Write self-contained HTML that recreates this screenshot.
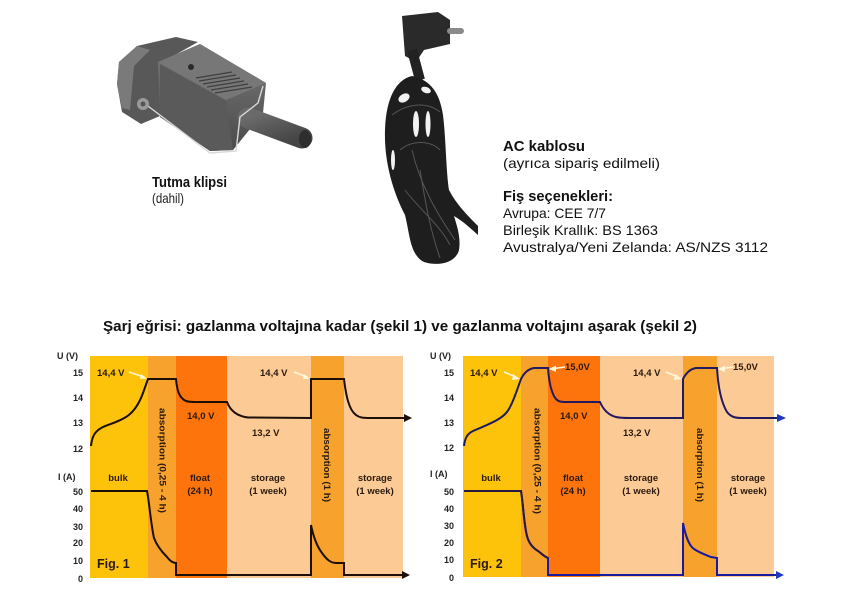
<!DOCTYPE html>
<html><head><meta charset="utf-8"><style>
html,body{margin:0;padding:0;background:#fff;}
svg{display:block;}
text{font-family:"Liberation Sans",Arial,sans-serif;}
.t{font-size:9.5px;font-weight:bold;fill:#2a1a10;}
.ax{font-size:9px;font-weight:bold;fill:#222;}
</style></head><body>
<svg width="852" height="592" viewBox="0 0 852 592" xmlns="http://www.w3.org/2000/svg">
<rect width="852" height="592" fill="#fff"/>
<defs>
<linearGradient id="gb" x1="0" y1="0" x2="0" y2="1"><stop offset="0" stop-color="#7a7a7a"/><stop offset="1" stop-color="#4a4a4a"/></linearGradient>
<linearGradient id="gt" x1="0" y1="0" x2="1" y2="1"><stop offset="0" stop-color="#6a6a6a"/><stop offset="1" stop-color="#444"/></linearGradient>
</defs>

<!-- clip image -->
<g>
<polygon points="119,62 137,46 176,37 198,42 166,60 160,116 141,124 122,112 117,84" fill="#585858"/>
<polygon points="119,62 137,46 150,50 134,66 130,110 122,108 117,84" fill="#7a7a7a"/>
<polygon points="158,62 200,44 266,83 263,113 233,150 210,151 160,117" fill="url(#gb)"/>
<polygon points="158,62 200,44 266,83 226,100" fill="#777"/>
<polygon points="160,64 226,101 233,150 210,151 160,117" fill="#5a5a5a"/>
<circle cx="191" cy="67" r="3" fill="#2a2a2a"/>
<g stroke="#3f3f3f" stroke-width="1.2">
<line x1="196" y1="78" x2="232" y2="72"/><line x1="199" y1="81" x2="236" y2="75"/><line x1="203" y1="84" x2="240" y2="78"/><line x1="207" y1="87" x2="244" y2="81"/><line x1="211" y1="90" x2="248" y2="84"/><line x1="215" y1="93" x2="252" y2="87"/>
</g>
<line x1="248" y1="118" x2="302" y2="138" stroke="url(#gt)" stroke-width="21" stroke-linecap="round"/>
<ellipse cx="305" cy="139" rx="6" ry="9" fill="#2e2e2e"/>
<path d="M140,100 L210,153 L236,151 L240,117 L258,103 L263,86" fill="none" stroke="#d8d8d8" stroke-width="1.4"/>
<circle cx="143" cy="104" r="6" fill="#9a9a9a"/>
<circle cx="143" cy="104" r="2.5" fill="#555"/>
</g>
<text x="152" y="187" font-size="15" font-weight="bold" fill="#111" textLength="75" lengthAdjust="spacingAndGlyphs">Tutma klipsi</text>
<text x="152" y="203" font-size="14" fill="#222" textLength="32" lengthAdjust="spacingAndGlyphs">(dahil)</text>

<!-- cord image -->
<g>
<polygon points="402,16 438,12 450,20 450,44 424,50 416,62 405,56" fill="#2a2a2a"/>
<rect x="447" y="28" width="17" height="6" rx="3" fill="#8a8a8a"/>
<path d="M412,50 L420,80" stroke="#222" stroke-width="10" fill="none"/>
<path d="M412,76 C395,80 386,100 385,130 C384,160 392,190 405,215 C410,235 410,255 424,262 C440,267 456,262 459,250 C461,238 457,226 454,216 C464,222 470,228 478,235 L478,226 C468,216 456,204 449,190 C446,170 446,140 443,115 C440,95 432,80 412,76 Z" fill="#1e1e1e"/>
<g fill="#f2f2f2">
<ellipse cx="404" cy="98" rx="6" ry="4" transform="rotate(-30 404 98)"/>
<ellipse cx="426" cy="90" rx="5" ry="3" transform="rotate(20 426 90)"/>
<ellipse cx="416" cy="124" rx="3" ry="13"/>
<ellipse cx="428" cy="124" rx="2.5" ry="13"/>
<ellipse cx="393" cy="160" rx="2" ry="10"/>
</g>
<g fill="none" stroke="#555" stroke-width="1">
<path d="M392,115 C405,105 425,100 440,112"/>
<path d="M400,150 C412,140 430,140 440,150"/>
<path d="M412,150 C420,185 438,215 455,240"/>
<path d="M420,170 C425,200 430,230 440,258"/>
<path d="M405,190 C420,210 440,225 450,245"/>
</g>
</g>

<!-- right text -->
<g fill="#111">
<text x="503" y="151" font-size="15" font-weight="bold" textLength="82" lengthAdjust="spacingAndGlyphs">AC kablosu</text>
<text x="503" y="168" font-size="14" textLength="157" lengthAdjust="spacingAndGlyphs">(ayrıca sipariş edilmeli)</text>
<text x="503" y="201" font-size="15" font-weight="bold" textLength="110" lengthAdjust="spacingAndGlyphs">Fiş seçenekleri:</text>
<text x="503" y="218" font-size="14" textLength="103" lengthAdjust="spacingAndGlyphs">Avrupa: CEE 7/7</text>
<text x="503" y="235" font-size="14" textLength="155" lengthAdjust="spacingAndGlyphs">Birleşik Krallık: BS 1363</text>
<text x="503" y="252" font-size="14" textLength="265" lengthAdjust="spacingAndGlyphs">Avustralya/Yeni Zelanda: AS/NZS 3112</text>
</g>

<text x="103" y="331" font-size="15" font-weight="bold" fill="#111" textLength="594" lengthAdjust="spacingAndGlyphs">Şarj eğrisi: gazlanma voltajına kadar (şekil 1) ve gazlanma voltajını aşarak (şekil 2)</text>

<!-- CHART 1 -->
<g>
<rect x="90" y="356" width="58" height="222" fill="#FDC20A"/>
<rect x="148" y="356" width="28" height="222" fill="#F8A22E"/>
<rect x="176" y="356" width="51" height="222" fill="#FD730C"/>
<rect x="227" y="356" width="84" height="222" fill="#FCCB95"/>
<rect x="311" y="356" width="33" height="222" fill="#F8A22E"/>
<rect x="344" y="356" width="59" height="222" fill="#FCCB95"/>

<text class="ax" x="57" y="359">U (V)</text>
<text class="ax" x="83" y="376" text-anchor="end">15</text>
<text class="ax" x="83" y="401" text-anchor="end">14</text>
<text class="ax" x="83" y="426" text-anchor="end">13</text>
<text class="ax" x="83" y="452" text-anchor="end">12</text>
<text class="ax" x="58" y="480">I (A)</text>
<text class="ax" x="83" y="495" text-anchor="end">50</text>
<text class="ax" x="83" y="512" text-anchor="end">40</text>
<text class="ax" x="83" y="530" text-anchor="end">30</text>
<text class="ax" x="83" y="546" text-anchor="end">20</text>
<text class="ax" x="83" y="564" text-anchor="end">10</text>
<text class="ax" x="83" y="582" text-anchor="end">0</text>

<path d="M91,446 C92,436 95,431 103,427 C110,424 118,422 126,417 C134,412 139,404 143,393 L148,379 L176,379 C177,390 179,398 186,401 C189,402 192,402 195,402 L227,402 C230,410 236,416 248,417.5 L311,418 L311,379 L344,379 C346,396 349,410 356,415 C360,418 364,418 370,418 L404,418" fill="none" stroke="#1c0f0a" stroke-width="2"/>
<polygon points="404,414 412,418 404,422" fill="#1c0f0a"/>
<path d="M91,491 L147,491 C149,500 151,525 154,538 C157,546 162,552 167,557 C170,561 173,563 176,563 L176,575 L311,575 L311,525 C313,535 316,545 322,553 C327,560 331,563 336,563 L344,563 L344,575 L402,575" fill="none" stroke="#1c0f0a" stroke-width="2"/>
<polygon points="402,571 410,575 402,579" fill="#1c0f0a"/>

<text class="t" x="97" y="376">14,4 V</text>
<line x1="129" y1="372" x2="144" y2="377" stroke="#fff8d8" stroke-width="1.5"/>
<polygon points="147,378.5 141,374 140,379" fill="#fff8d8"/>
<text class="t" x="260" y="376">14,4 V</text>
<line x1="294" y1="372" x2="307" y2="377" stroke="#fff8d8" stroke-width="1.5"/>
<polygon points="310,378.5 304,374 303,379" fill="#fff8d8"/>
<text class="t" x="187" y="419">14,0 V</text>
<text class="t" x="252" y="436">13,2 V</text>

<text class="t" x="118" y="481" text-anchor="middle">bulk</text>
<text class="t" x="200" y="481" text-anchor="middle">float</text>
<text class="t" x="200" y="494" text-anchor="middle">(24 h)</text>
<text class="t" x="268" y="481" text-anchor="middle">storage</text>
<text class="t" x="268" y="494" text-anchor="middle">(1 week)</text>
<text class="t" x="375" y="481" text-anchor="middle">storage</text>
<text class="t" x="375" y="494" text-anchor="middle">(1 week)</text>
<text class="t" transform="translate(159.5,408) rotate(90)" textLength="105" lengthAdjust="spacingAndGlyphs">absorption (0,25 - 4 h)</text>
<text class="t" transform="translate(324,428) rotate(90)" textLength="74" lengthAdjust="spacingAndGlyphs">absorption (1 h)</text>
<text x="97" y="568" font-size="12.5" font-weight="bold" fill="#2a1a10">Fig. 1</text>
</g>

<!-- CHART 2 -->
<g>
<rect x="463" y="356" width="58" height="221" fill="#FDC20A"/>
<rect x="521" y="356" width="27" height="221" fill="#F8A22E"/>
<rect x="548" y="356" width="52" height="221" fill="#FD730C"/>
<rect x="600" y="356" width="83" height="221" fill="#FCCB95"/>
<rect x="683" y="356" width="34" height="221" fill="#F8A22E"/>
<rect x="717" y="356" width="57" height="221" fill="#FCCB95"/>

<text class="ax" x="430" y="359">U (V)</text>
<text class="ax" x="454" y="376" text-anchor="end">15</text>
<text class="ax" x="454" y="401" text-anchor="end">14</text>
<text class="ax" x="454" y="426" text-anchor="end">13</text>
<text class="ax" x="454" y="451" text-anchor="end">12</text>
<text class="ax" x="430" y="477">I (A)</text>
<text class="ax" x="454" y="495" text-anchor="end">50</text>
<text class="ax" x="454" y="512" text-anchor="end">40</text>
<text class="ax" x="454" y="529" text-anchor="end">30</text>
<text class="ax" x="454" y="546" text-anchor="end">20</text>
<text class="ax" x="454" y="563" text-anchor="end">10</text>
<text class="ax" x="454" y="581" text-anchor="end">0</text>

<path d="M464,446 C465,438 467,434 473,431 C480,428 490,424 497,420 C504,416 508,412 511,405 C515,397 518,387 521,379 C524,373 528,369 534,368 L548,368 C549,382 551,393 556,399 C559,402 562,402 566,402 L600,402 C603,409 608,415 616,417 C620,418 624,418 630,418 L683,418 L683,379 C686,373 690,369 696,368 L717,368 C718,385 721,402 727,412 C731,417 735,418 742,418 L777,418" fill="none" stroke="#221a60" stroke-width="2"/>
<polygon points="777,414 786,418 777,422" fill="#2038c0"/>
<path d="M464,491 L521,491 C523,502 524,525 527,536 C529,544 533,548 538,551 C542,554 545,557 548,558 L548,575 L683,575 L683,523 C685,533 688,545 694,549 C700,553 706,555 711,557 L717,558 L717,575 L776,575" fill="none" stroke="#1a1aa0" stroke-width="2"/>
<path d="M464,491 L521,491 C523,502 524,525 527,536 C529,544 533,548 538,551 C542,554 545,557 548,558" fill="none" stroke="#2a1a40" stroke-width="2"/>
<polygon points="776,571 784,575 776,579" fill="#2038c0"/>

<text class="t" x="470" y="376">14,4 V</text>
<line x1="504" y1="372" x2="516" y2="377" stroke="#fff8d8" stroke-width="1.5"/>
<polygon points="520,379 513,374 512,380" fill="#fff8d8"/>
<text class="t" x="565" y="370">15,0V</text>
<line x1="565" y1="367" x2="554" y2="368.5" stroke="#fff8d8" stroke-width="1.5"/>
<polygon points="549,369 556,365.5 556,372" fill="#fff8d8"/>
<text class="t" x="633" y="376">14,4 V</text>
<line x1="666" y1="372" x2="678" y2="377" stroke="#fff8d8" stroke-width="1.5"/>
<polygon points="682,379 675,374 674,380" fill="#fff8d8"/>
<text class="t" x="733" y="370">15,0V</text>
<line x1="733" y1="367" x2="723" y2="368.5" stroke="#fff8d8" stroke-width="1.5"/>
<polygon points="718,369 725,365.5 725,372" fill="#fff8d8"/>
<text class="t" x="560" y="419">14,0 V</text>
<text class="t" x="623" y="436">13,2 V</text>

<text class="t" x="491" y="481" text-anchor="middle">bulk</text>
<text class="t" x="573" y="481" text-anchor="middle">float</text>
<text class="t" x="573" y="494" text-anchor="middle">(24 h)</text>
<text class="t" x="641" y="481" text-anchor="middle">storage</text>
<text class="t" x="641" y="494" text-anchor="middle">(1 week)</text>
<text class="t" x="748" y="481" text-anchor="middle">storage</text>
<text class="t" x="748" y="494" text-anchor="middle">(1 week)</text>
<text class="t" transform="translate(534.5,408) rotate(90)" textLength="106" lengthAdjust="spacingAndGlyphs">absorption (0,25 - 4 h)</text>
<text class="t" transform="translate(697,428) rotate(90)" textLength="74" lengthAdjust="spacingAndGlyphs">absorption (1 h)</text>
<text x="470" y="568" font-size="12.5" font-weight="bold" fill="#2a1a10">Fig. 2</text>
</g>
</svg>
</body></html>
